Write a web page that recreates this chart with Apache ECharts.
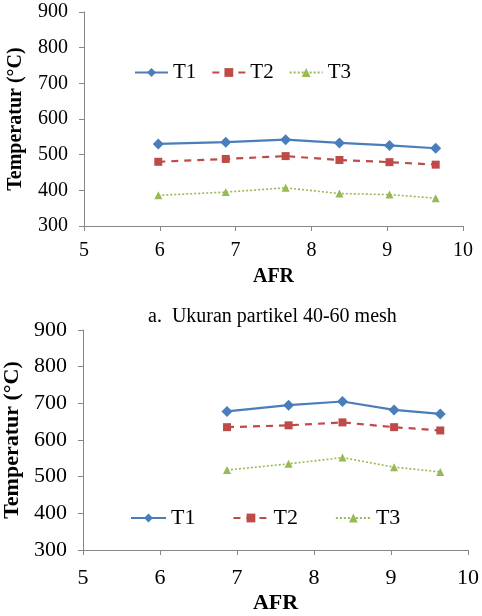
<!DOCTYPE html>
<html>
<head>
<meta charset="utf-8">
<script src="https://cdn.jsdelivr.net/npm/echarts@6/dist/echarts.min.js"></script>
<style>
  html, body { margin: 0; padding: 0; background: #fff; }
  #chart { width: 482px; height: 616px; }
</style>
</head>
<body>
<div id="chart"></div>
<script>
// data
const afrA = [5.98, 6.87, 7.66, 8.37, 9.03, 9.64];
const t1A = [530, 535, 542, 533, 526, 518];
const t2A = [480, 488, 496, 485, 479, 472];
const t3A = [386, 395, 407, 391, 388, 378];

const afrB = [6.87, 7.67, 8.37, 9.04, 9.64];
const t1B = [678, 695, 705, 682, 671];
const t2B = [635, 640, 648, 635, 626];
const t3B = [518, 535, 552, 526, 513];

const seriesNames = ['T1', 'T2', 'T3'];
const caption = 'a.  Ukuran partikel 40-60 mesh';

const font = 'Liberation Serif';
const axisColor = '#868686';

function pairs(xs, ys) {
    return xs.map(function (x, i) { return [x, ys[i]]; });
}

function xAxisOpt(grid, size, margin, gap) {
    return {
        gridIndex: grid,
        type: 'value',
        min: 5, max: 10, interval: 1,
        name: 'AFR',
        nameLocation: 'middle',
        nameGap: gap,
        nameTextStyle: { fontFamily: font, fontWeight: 'bold', fontSize: size, color: '#000' },
        axisLine: { lineStyle: { color: axisColor } },
        axisTick: { show: true, length: 5, lineStyle: { color: axisColor } },
        axisLabel: { fontFamily: font, fontSize: size, color: '#000', margin: margin },
        splitLine: { show: false }
    };
}

function yAxisOpt(grid, size, gap) {
    return {
        gridIndex: grid,
        type: 'value',
        min: 300, max: 900, interval: 100,
        name: 'Temperatur (°C)',
        nameLocation: 'middle',
        nameGap: gap,
        nameTextStyle: { fontFamily: font, fontWeight: 'bold', fontSize: size, color: '#000' },
        axisLine: { show: true, lineStyle: { color: axisColor } },
        axisTick: { show: true, length: 5, lineStyle: { color: axisColor } },
        axisLabel: { fontFamily: font, fontSize: size, color: '#000', margin: 16 },
        splitLine: { show: false }
    };
}

const styles = [
    { color: '#4a7ebb', symbol: 'diamond', size: 11, type: 'solid', width: 2.2 },
    { color: '#be4b48', symbol: 'rect', size: 8, type: [7, 6], width: 2.2 },
    { color: '#98b954', symbol: 'triangle', size: 8, type: [2, 2], width: 1.6 }
];

function lineSeries(i, grid, xs, ys) {
    const s = styles[i];
    return {
        name: seriesNames[i],
        type: 'line',
        xAxisIndex: grid,
        yAxisIndex: grid,
        data: pairs(xs, ys),
        symbol: s.symbol,
        symbolSize: s.size,
        itemStyle: { color: s.color },
        lineStyle: { color: s.color, width: s.width, type: s.type },
        animation: false
    };
}

const chart = echarts.init(document.getElementById('chart'));
chart.setOption({
    backgroundColor: '#fff',
    title: {
        text: caption,
        left: 143,
        top: 302,
        textStyle: { fontFamily: font, fontWeight: 'normal', fontSize: 20, color: '#000' }
    },
    legend: [
        {
            data: seriesNames,
            left: 134,
            top: 62,
            padding: 0,
            itemWidth: 33,
            itemHeight: 11,
            itemGap: 15,
            textStyle: { fontFamily: font, fontSize: 21, color: '#000' }
        },
        {
            data: seriesNames,
            left: 130,
            top: 507,
            padding: 0,
            itemWidth: 35,
            itemHeight: 11,
            itemGap: 37,
            textStyle: { fontFamily: font, fontSize: 22, color: '#000' }
        }
    ],
    grid: [
        { left: 84, right: 19, top: 12, height: 214, containLabel: false, outerBoundsMode: 'none' },
        { left: 83, right: 14, top: 330, height: 220, containLabel: false, outerBoundsMode: 'none' }
    ],
    xAxis: [xAxisOpt(0, 20, 15, 41), xAxisOpt(1, 22, 17, 42)],
    yAxis: [yAxisOpt(0, 20, 58), yAxisOpt(1, 22, 55)],
    series: [
        lineSeries(0, 0, afrA, t1A),
        lineSeries(1, 0, afrA, t2A),
        lineSeries(2, 0, afrA, t3A),
        lineSeries(0, 1, afrB, t1B),
        lineSeries(1, 1, afrB, t2B),
        lineSeries(2, 1, afrB, t3B)
    ]
});

window.addEventListener('resize', function () {
    chart.resize();
});
</script>
</body>
</html>
